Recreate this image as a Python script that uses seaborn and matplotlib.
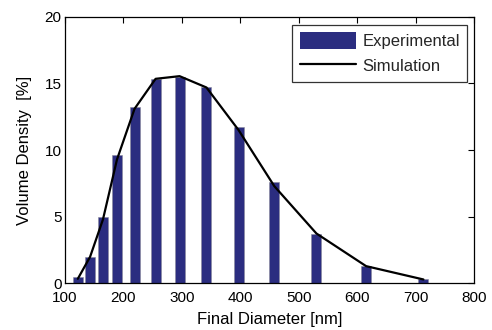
import matplotlib
matplotlib.use("Agg")
import matplotlib.pyplot as plt
from matplotlib.patches import Patch
from matplotlib.lines import Line2D
import seaborn as sns
import pandas as pd

diameter = [122, 143, 165, 189, 219, 255, 296, 342, 397, 458, 530, 615, 713]
experimental = [0.45, 1.97, 5.0, 9.6, 13.2, 15.35, 15.5, 14.75, 11.75, 7.6, 3.74, 1.3, 0.37]
simulation = [0.35, 2.0, 4.8, 9.3, 13.1, 15.35, 15.55, 14.7, 11.5, 7.3, 3.75, 1.3, 0.3]
xticks = [100, 200, 300, 400, 500, 600, 700, 800]
yticks = [0, 5, 10, 15, 20]

sns.set_theme(style="white")
plt.rcParams['font.family'] = ['Liberation Sans', 'DejaVu Sans']

df = pd.DataFrame({"d": diameter, "exp": experimental, "sim": simulation})

fig = plt.figure(figsize=(4.92, 3.30), dpi=100)
ax = fig.add_axes([0.132, 0.141, 0.832, 0.808])

bar_color = "#2b2d80"
sns.barplot(data=df, x="d", y="exp", native_scale=True, width=0.81,
            color=bar_color, saturation=1, errorbar=None, ax=ax,
            edgecolor="#8a8a9a", linewidth=0.4)
sns.lineplot(data=df, x="d", y="sim", color="black", linewidth=1.6, ax=ax)

ax.set_xlim(100, 800)
ax.set_ylim(0, 20)
ax.set_xticks(xticks)
ax.set_yticks(yticks)
ax.tick_params(direction="in", length=4, width=0.8, top=True, right=True,
               labelsize=11, colors="black")
ax.tick_params(axis="x", pad=5.5)
ax.tick_params(axis="y", pad=2.5)
for s in ax.spines.values():
    s.set_color("black")
    s.set_linewidth(0.9)
ax.set_xlabel("Final Diameter [nm]", fontsize=12, color="black", labelpad=5)
ax.set_ylabel("Volume Density  [%]", fontsize=12, color="black", labelpad=9)

handles = [Patch(facecolor=bar_color, edgecolor="none"),
           Line2D([0], [0], color="black", linewidth=1.6)]
leg = ax.legend(handles, ["Experimental", "Simulation"], loc="upper right",
                bbox_to_anchor=(0.983, 0.970), borderaxespad=0,
                fontsize=12, frameon=True, fancybox=False, handlelength=3.4,
                handleheight=1.2, handletextpad=0.35,
                labelspacing=0.45, borderpad=0.45)
leg.get_frame().set_edgecolor("black")
leg.get_frame().set_linewidth(0.9)

fig.savefig("out.png", dpi=100)
